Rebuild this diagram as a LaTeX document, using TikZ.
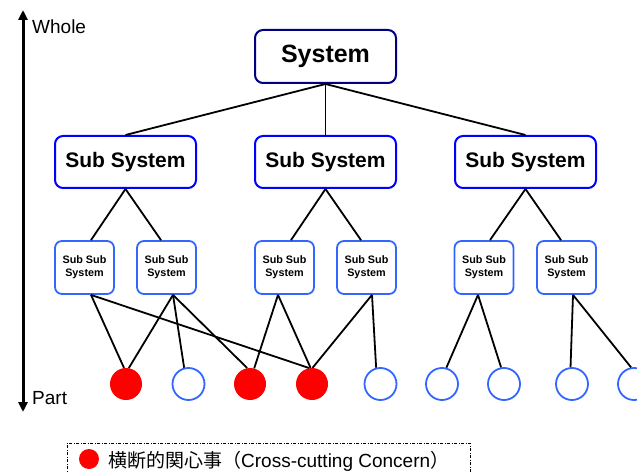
\documentclass[tikz,border=0pt]{standalone}
\usepackage{fontspec}
\setmainfont{Liberation Sans}
\newfontfamily\cjk{Noto Sans CJK JP}
\usetikzlibrary{arrows.meta,calc}
\definecolor{navy}{RGB}{0,0,128}
\definecolor{subblue}{RGB}{0,0,255}
\definecolor{lightblue}{RGB}{51,102,255}
\definecolor{cred}{RGB}{255,0,0}
\begin{document}
\begin{tikzpicture}[x=1pt,y=-1pt,
  sysbox/.style={draw=navy,line width=2pt,rounded corners=8pt,minimum width=141pt,minimum height=53pt,inner sep=0pt,font=\fontsize{25}{28}\selectfont\bfseries},
  subbox/.style={draw=subblue,line width=2pt,rounded corners=8pt,minimum width=141pt,minimum height=52pt,inner sep=0pt,font=\fontsize{21}{24}\selectfont\bfseries},
  ssbox/.style={draw=lightblue,line width=1.8pt,rounded corners=7pt,minimum width=59pt,minimum height=53pt,inner sep=0pt,align=center,font=\fontsize{10.8}{13}\selectfont\bfseries},
  part/.style={circle,minimum size=32pt,inner sep=0pt},
  cc/.style={part,fill=cred},
  plain/.style={part,draw=lightblue,line width=1.8pt},
  conn/.style={draw=black,line width=1.8pt},
  lbl/.style={font=\fontsize{19}{22}\selectfont,inner sep=0pt}
]
\useasboundingbox (0,0) rectangle (637,473);

% axis
\coordinate (top) at (23,10);
\coordinate (bot) at (23,412);
\draw[line width=3pt,{Triangle[width=9pt,length=10pt]}-{Triangle[width=9pt,length=10pt]}] (top) -- (bot);
\node[lbl,anchor=base west] (whole) at (32,34) {Whole};
\node[lbl,anchor=base west] (partl) at (32,404) {Part};

% tree
\node[sysbox] (sys) at (325.5,56.5) {System};
\node[subbox] (s1) at (125.5,162) {Sub System};
\node[subbox] (s2) at (325.5,162) {Sub System};
\node[subbox] (s3) at (525.5,162) {Sub System};

\node[ssbox] (b1) at (84.5,267.5) {Sub Sub\\System};
\node[ssbox] (b2) at (166.5,267.5) {Sub Sub\\System};
\node[ssbox] (b3) at (284.5,267.5) {Sub Sub\\System};
\node[ssbox] (b4) at (366.5,267.5) {Sub Sub\\System};
\node[ssbox] (b5) at (484,267.5) {Sub Sub\\System};
\node[ssbox] (b6) at (566.5,267.5) {Sub Sub\\System};

\node[cc] (c1) at (126,384) {};
\node[plain] (c2) at (188.5,384) {};
\node[cc] (c3) at (250,384) {};
\node[cc] (c4) at (312,384) {};
\node[plain] (c5) at (380.5,384) {};
\node[plain] (c6) at (442,384) {};
\node[plain] (c7) at (504,384) {};
\node[plain] (c8) at (572,384) {};
\node[plain] (c9) at (634,384) {};

\draw[conn] (sys.south) -- (s1.north);
\draw[conn] (sys.south) -- (s2.north);
\draw[conn] (sys.south) -- (s3.north);

\draw[conn] (s1.south) -- ($(b1.north)+(6.5,0)$);
\draw[conn] (s1.south) -- ($(b2.north)+(-5.5,0)$);
\draw[conn] (s2.south) -- ($(b3.north)+(6.5,0)$);
\draw[conn] (s2.south) -- ($(b4.north)+(-5.5,0)$);
\draw[conn] (s3.south) -- ($(b5.north)+(6,0)$);
\draw[conn] (s3.south) -- ($(b6.north)+(-5.5,0)$);

\draw[conn] ($(b1.south)+(6.5,0)$) -- (c1.97);
\draw[conn] ($(b1.south)+(6.5,0)$) -- (c4.100);
\draw[conn] ($(b2.south)+(6.5,0)$) -- (c1.80);
\draw[conn] ($(b2.south)+(6.5,0)$) -- (c2.105);
\draw[conn] ($(b2.south)+(6.5,0)$) -- (c3.100);
\draw[conn] ($(b3.south)+(-6.5,0)$) -- (c3.75);
\draw[conn] ($(b3.south)+(-6.5,0)$) -- (c4.95);
\draw[conn] ($(b4.south)+(5.5,0)$) -- (c4.88);
\draw[conn] ($(b4.south)+(5.5,0)$) -- (c5.105);
\draw[conn] ($(b5.south)+(-6,0)$) -- (c6.75);
\draw[conn] ($(b5.south)+(-6,0)$) -- (c7.100);
\draw[conn] ($(b6.south)+(6.5,0)$) -- (c8.95);
\draw[conn] ($(b6.south)+(6.5,0)$) -- (c9.100);

% legend
\draw[line width=1pt,dash pattern=on 3pt off 1.5pt on 1pt off 1.5pt] (67,490) -- (67,443) -- (470,443) -- (470,490);
\node[circle,fill=cred,minimum size=20pt,inner sep=0pt] (ldot) at (89,459) {};
\node[lbl,anchor=base west] (ltext) at (108,467) {{\cjk 横断的関心事（}Cross-cutting Concern{\cjk ）}};
\end{tikzpicture}
\end{document}
